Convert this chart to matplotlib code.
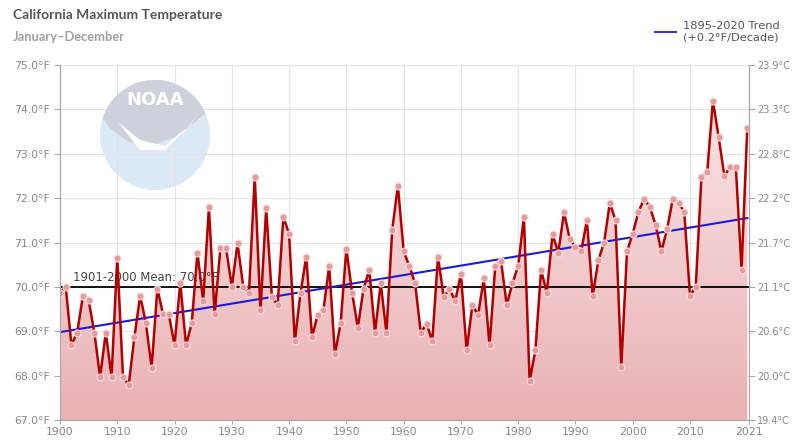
import matplotlib.pyplot as plt
import numpy as np
from matplotlib.patches import Circle, Polygon
from matplotlib.colors import LinearSegmentedColormap

# annual max temperature, California, degF
years = np.arange(1900, 2021)
temps = [
    69.87, 70.0, 68.69, 68.97, 69.8, 69.7, 68.97, 67.97, 68.97, 67.97,   # 1900s
    70.66, 67.97, 67.79, 68.88, 69.8, 69.18, 68.18, 69.96, 69.38, 69.38,  # 1910s
    68.69, 70.09, 68.69, 69.18, 70.77, 69.68, 71.79, 69.38, 70.87, 70.87,  # 1920s
    70.0, 70.98, 70.0, 69.87, 72.48, 69.47, 71.77, 69.77, 69.59, 71.58,   # 1930s
    71.19, 68.78, 69.87, 70.68, 68.88, 69.37, 69.48, 70.47, 68.48, 69.18,  # 1940s
    70.86, 69.87, 69.08, 69.96, 70.38, 68.97, 70.08, 68.97, 71.28, 72.28,  # 1950s
    70.8, 70.47, 70.08, 68.97, 69.17, 68.78, 70.68, 69.77, 69.96, 69.68,   # 1960s
    70.29, 68.57, 69.59, 69.37, 70.19, 68.68, 70.47, 70.59, 69.59, 70.08,  # 1970s
    70.47, 71.58, 67.88, 68.57, 70.38, 69.87, 71.19, 70.77, 71.68, 71.08,  # 1980s
    70.9, 70.8, 71.5, 69.8, 70.6, 71.0, 71.89, 71.5, 68.2, 70.8,          # 1990s
    71.2, 71.69, 71.99, 71.79, 71.4, 70.8, 71.3, 71.99, 71.89, 71.69,     # 2000s
    69.8, 70.0, 72.48, 72.58, 74.19, 73.38, 72.5, 72.7, 72.7, 70.39,      # 2010s
    73.59,
]
mean_1901_2000 = 70.0
trend_years = [1900, 2020]
trend_vals = [68.98, 71.55]
f_ticks = [67, 68, 69, 70, 71, 72, 73, 74, 75]
x_ticks = [1900, 1910, 1920, 1930, 1940, 1950, 1960, 1970, 1980, 1990, 2000, 2010]

H = 440


def main():
    fig = plt.figure(figsize=(7.93, 4.40), dpi=100)
    ax = fig.add_axes([60 / 793, 20 / 440, 689 / 793, 355 / 440])
    x0, x1 = 1900, 2020.3
    ax.set_xlim(x0, x1)
    ax.set_ylim(67, 75)

    # grid
    ax.set_yticks(f_ticks)
    ax.set_yticklabels(['%.1f°F' % t for t in f_ticks])
    ax.set_xticks(x_ticks + [x1])
    ax.set_xticklabels([str(t) for t in x_ticks] + ['2021'])
    ax.grid(True, color='#e3e3e3', lw=0.8, zorder=0)
    ax.set_axisbelow(True)

    # NOAA logo watermark (pixel coords, top-left origin flipped)
    circ = Circle((155, H - 135), 55, transform=None, facecolor='#dbe9f6',
                  edgecolor='none', zorder=0.5)
    ax.add_patch(circ)
    bird = Polygon([(98, H - 78), (212, H - 78), (212, H - 108), (195, H - 122),
                    (175, H - 137), (150, H - 146), (128, H - 142), (110, H - 128),
                    (98, H - 112)], closed=True, transform=None,
                   facecolor='#cdd2da', edgecolor='none', zorder=0.6)
    ax.add_patch(bird)
    bird.set_clip_path(circ)
    swoosh = Polygon([(118, H - 122), (140, H - 140), (165, H - 146), (190, H - 125),
                      (200, H - 112), (185, H - 130), (165, H - 150), (140, H - 150)],
                     closed=True, transform=None, facecolor='white',
                     edgecolor='none', zorder=0.7)
    ax.add_patch(swoosh)
    swoosh.set_clip_path(circ)
    fig.text(155 / 793, 1 - 100 / 440, 'NOAA', color='white', fontsize=13,
             fontweight='bold', ha='center', va='center', zorder=1)

    # gradient fill under the series
    grad = np.linspace(0, 1, 256).reshape(-1, 1)
    cmap = LinearSegmentedColormap.from_list('pink', ['#e9b2b5', '#fbe9e9'])
    im = ax.imshow(grad, extent=[x0, x1, 67, 75], origin='lower', aspect='auto',
                   cmap=cmap, zorder=1)
    poly = ax.fill_between(years, temps, 67, facecolor='none', edgecolor='none')
    im.set_clip_path(poly.get_paths()[0], transform=ax.transData)

    # mean, trend, series
    ax.axhline(mean_1901_2000, color='black', lw=1.3, zorder=3)
    ax.text(1902.3, mean_1901_2000 + 0.07, '1901-2000 Mean: %.1f°F' % mean_1901_2000,
            fontsize=8.4, color='#444444', va='bottom', zorder=4)
    ax.plot(trend_years, trend_vals, color='#1a1adf', lw=1.5, zorder=3)
    ax.plot(years, temps, color='#b30000', lw=1.8, zorder=4,
            marker='o', markersize=5, markerfacecolor='#e79a9c',
            markeredgecolor='#f6dede', markeredgewidth=0.8)

    # axes styling
    ax.spines['top'].set_visible(False)
    for s in ['left', 'bottom', 'right']:
        ax.spines[s].set_color('#aaaaaa')
    ax.tick_params(colors='#aaaaaa', labelcolor='#888888', labelsize=7.8,
                   length=4, width=0.8)
    ax.tick_params(axis='x', length=3, pad=2)

    ax2 = ax.twinx()
    ax2.set_ylim(67, 75)
    ax2.set_yticks(f_ticks)
    ax2.set_yticklabels(['%.1f°C' % ((t - 32) * 5 / 9) for t in f_ticks])
    ax2.tick_params(colors='#aaaaaa', labelsize=7, length=4, width=0.8, pad=2,
                    labelcolor='#888888')
    ax2.spines['top'].set_visible(False)
    for s in ['left', 'bottom', 'right']:
        ax2.spines[s].set_color('#aaaaaa')

    # titles
    fig.text(13 / 793, 1 - 15 / 440, 'California Maximum Temperature', fontsize=10,
             fontweight='bold', color='#555555', family='Lato', va='center')
    fig.text(13 / 793, 1 - 37 / 440, 'January\u2013December', fontsize=9.3,
             fontweight='bold', color='#a0a0a0', family='Lato', va='center')

    # legend
    fig.legend(handles=[plt.Line2D([], [], color='#3333ee', lw=1.5)],
               labels=['1895-2020 Trend\n(+0.2°F/Decade)'], loc='center left',
               bbox_to_anchor=(645 / 793, 1 - 32 / 440), frameon=False,
               fontsize=8.2, handlelength=1.8, handletextpad=0.6, labelcolor='#555555')

    fig.savefig('out.png', dpi=100)


if __name__ == "__main__":
    main()
